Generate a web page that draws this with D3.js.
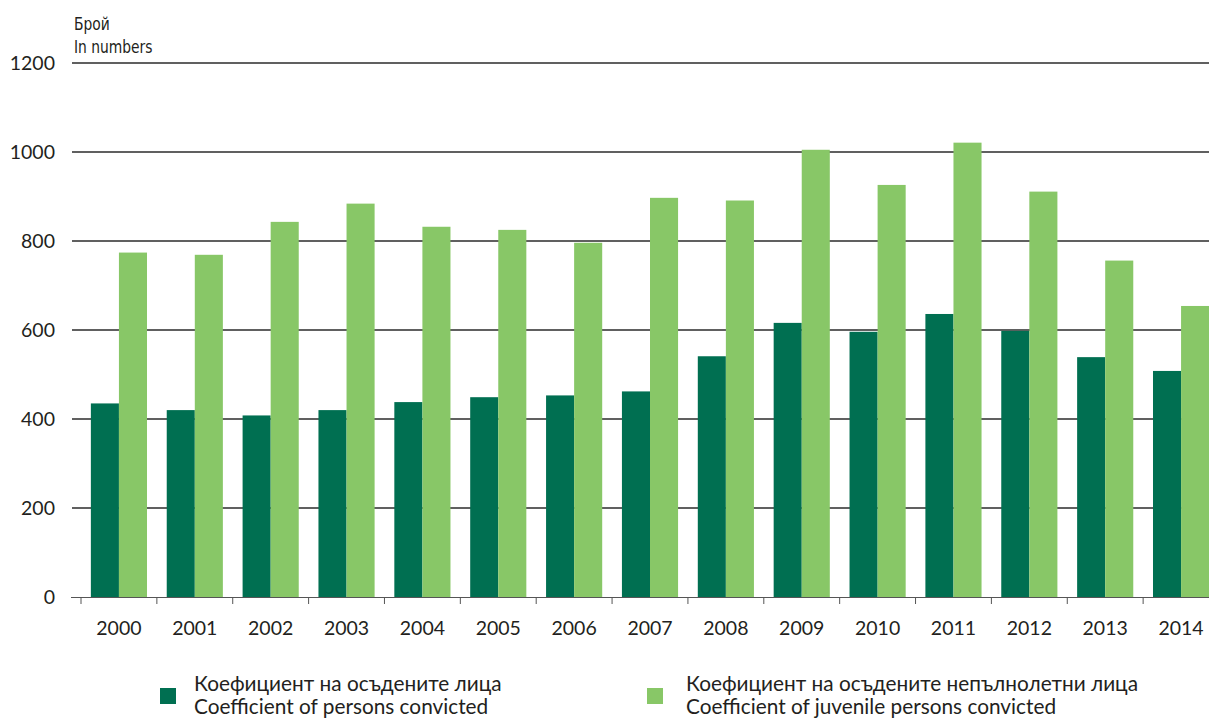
<!DOCTYPE html>
<html>
<head>
<meta charset="utf-8">
<script src="https://cdn.jsdelivr.net/npm/d3@7"></script>
<style>
  html, body { margin: 0; padding: 0; background: #fff; }
  svg { display: block; }
  text { font-family: Lato, "Open Sans", sans-serif; fill: #231f20; }
</style>
</head>
<body>
<svg id="chart" width="1209" height="718"></svg>
<script>
const years = ["2000","2001","2002","2003","2004","2005","2006","2007","2008","2009","2010","2011","2012","2013","2014"];
const convicted = [435, 420, 408, 420, 438, 449, 453, 462, 541, 616, 596, 636, 598, 539, 508];
const juvenile  = [774, 769, 843, 884, 832, 825, 796, 897, 891, 1005, 926, 1021, 911, 756, 654];
const yTicks = [0, 200, 400, 600, 800, 1000, 1200];
const seriesNames = [
  ["Коефициент на осъдените лица", "Coefficient of persons convicted"],
  ["Коефициент на осъдените непълнолетни лица", "Coefficient of juvenile persons convicted"]
];
const colors = ["#006f51", "#88c767"];

const svg = d3.select("#chart");
const left = 72, right = 1209;
const y = d3.scaleLinear().domain([0, 1200]).range([597, 63]);
const x = d3.scaleBand().domain(years).range([81, 1219]).paddingInner(0.26).paddingOuter(0.13);
const sub = d3.scaleBand().domain([0, 1]).range([0, x.bandwidth()]);

// gridlines
svg.append("g").selectAll("line").data(yTicks.filter(d => d > 0)).join("line")
  .attr("x1", left).attr("x2", right)
  .attr("y1", d => y(d)).attr("y2", d => y(d))
  .attr("stroke", "#2b2b2b").attr("stroke-width", 1.3);

// y labels
svg.append("g").selectAll("text").data(yTicks).join("text")
  .attr("x", 55).attr("y", d => y(d)).attr("dy", "0.36em")
  .attr("text-anchor", "end").attr("font-size", 19.5)
  .text(d => d);

// bars
const groups = svg.append("g").selectAll("g").data(years).join("g")
  .attr("transform", d => `translate(${x(d)},0)`);
[convicted, juvenile].forEach((vals, si) => {
  groups.append("rect")
    .attr("x", sub(si)).attr("width", sub.bandwidth())
    .attr("y", (d, i) => y(vals[i]))
    .attr("height", (d, i) => y(0) - y(vals[i]))
    .attr("fill", colors[si]);
});

// x axis line
svg.append("line").attr("x1", 71).attr("x2", right).attr("y1", y(0) + 0.5).attr("y2", y(0) + 0.5)
  .attr("stroke", "#555").attr("stroke-width", 1);
// group boundary ticks
const half = x.step() * x.paddingInner() / 2;
svg.append("g").selectAll("line").data(years).join("line")
  .attr("x1", d => x(d) - half).attr("x2", d => x(d) - half)
  .attr("y1", y(0)).attr("y2", y(0) + 7)
  .attr("stroke", "#555").attr("stroke-width", 1);

// x labels
svg.append("g").selectAll("text").data(years).join("text")
  .attr("x", d => x(d) + x.bandwidth() / 2).attr("y", 635)
  .attr("text-anchor", "middle").attr("font-size", 19.5)
  .text(d => d);

// unit label
const unit = svg.append("text").attr("font-size", 17.5)
  .attr("transform", "translate(74,0) scale(0.88,1)")
  .style("font-family", "'Liberation Sans Narrow', 'DejaVu Sans Condensed', sans-serif");
unit.append("tspan").attr("x", 0).attr("y", 30).text("Брой");
unit.append("tspan").attr("x", 0).attr("y", 53).text("In numbers");

// legend
const legBox = [160, 647];
const legText = [194, 686];
seriesNames.forEach((names, i) => {
  const g = svg.append("g");
  g.append("rect").attr("x", legBox[i]).attr("y", 688).attr("width", 16).attr("height", 16).attr("fill", colors[i]);
  const t = g.append("text").attr("font-size", 20.8);
  t.append("tspan").attr("x", legText[i]).attr("y", 691).text(names[0]);
  t.append("tspan").attr("x", legText[i]).attr("y", 714).text(names[1]);
});
</script>
</body>
</html>
